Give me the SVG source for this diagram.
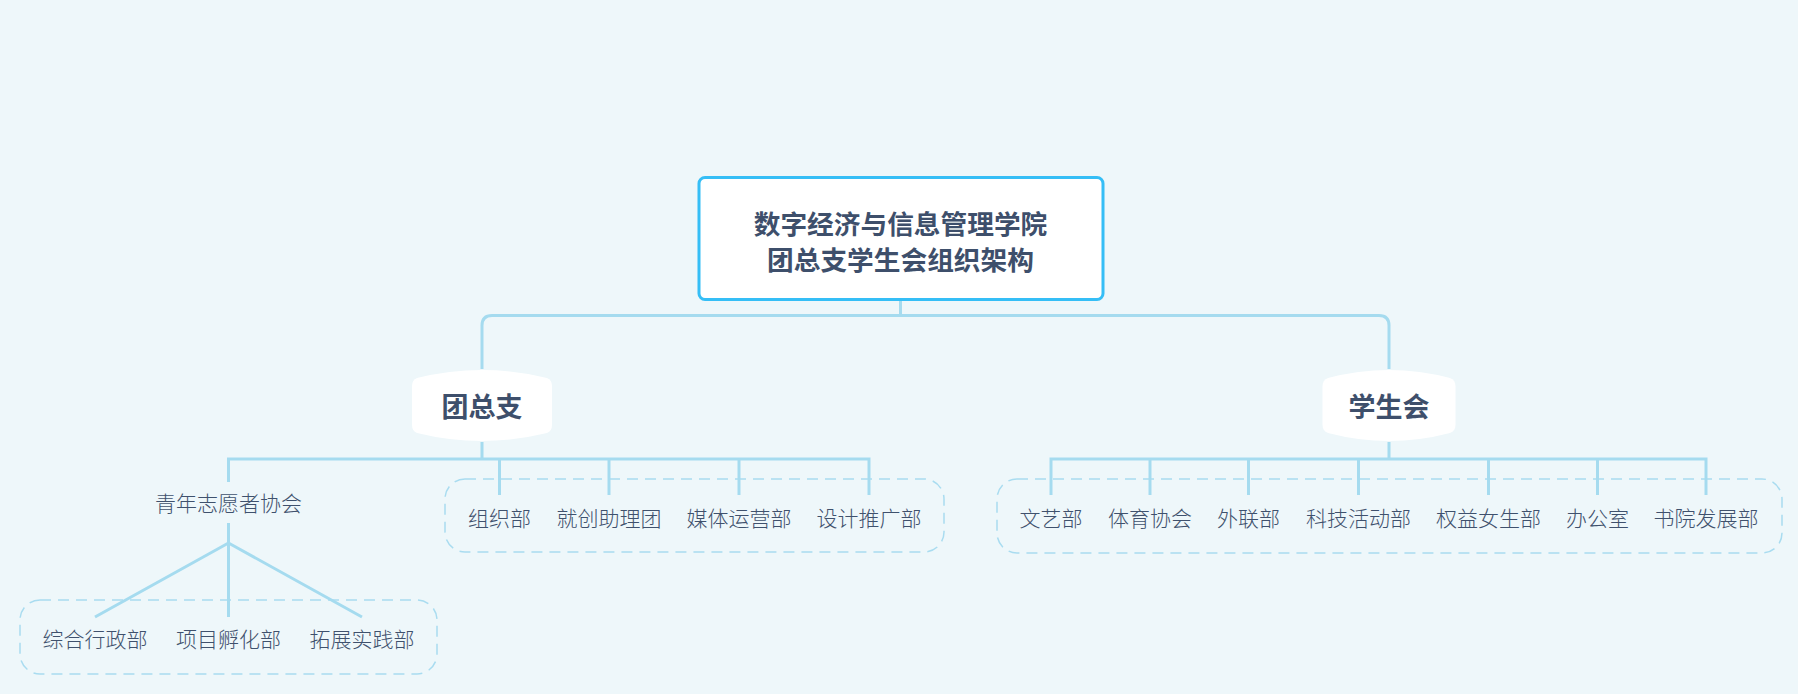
<svg xmlns="http://www.w3.org/2000/svg" width="1798" height="694" viewBox="0 0 1798 694">
<style>
text{font-family:"Noto Sans CJK SC","Noto Sans",sans-serif;fill:#3e4f6b;dominant-baseline:central;text-anchor:middle}
.t{font-size:26.7px;font-weight:bold}
.m{font-size:27px;font-weight:bold}
.s{font-size:21px;font-weight:300;fill:#3f516d}
.ln{fill:none;stroke:#a5dbef;stroke-width:3}
.grp{fill:none;stroke:#a9dcf0;stroke-width:1.5;stroke-dasharray:11 7}
.hex{fill:#ffffff}
</style>
<rect width="1798" height="694" fill="#eef7fa"/>
<g id="group-boxes">
<rect class="grp" x="20" y="600" width="417" height="74" rx="20"/>
<rect class="grp" x="445" y="479" width="499" height="73" rx="20"/>
<rect class="grp" x="997" y="479" width="785" height="74" rx="20"/>
</g>
<g id="connectors" class="ln">
<path d="M900.5,297 V315.5"/>
<path d="M482,369 V325.5 Q482,315.5 492,315.5 H1379 Q1389,315.5 1389,325.5 V369"/>
<path d="M482,442 V459"/>
<path d="M228.5,482 V459 H869 V495"/>
<path d="M499.5,459 V495 M609,459 V495 M739,459 V495"/>
<path d="M1389,442 V459"/>
<path d="M1051,495 V459 H1706 V495"/>
<path d="M1150,459 V495 M1248.5,459 V495 M1358.5,459 V495 M1488.5,459 V495 M1597.5,459 V495"/>
<path d="M228.5,523 V543 M228.5,543 L95,617 M228.5,543 V617 M228.5,543 L362,617"/>
</g>
<g id="root">
<rect x="699" y="177.5" width="404" height="122" rx="6" fill="#ffffff" stroke="#35bef6" stroke-width="3"/>
<text class="t" x="900.5" y="222">数字经济与信息管理学院</text>
<text class="t" x="900.5" y="258">团总支学生会组织架构</text>
</g>
<g id="tuanzongzhi">
<path class="hex" d="M417,378 Q482,362 547,378 Q552,380 552,386 V425 Q552,431 547,433 Q482,449 417,433 Q412,431 412,425 V386 Q412,380 417,378 Z"/>
<text class="m" x="482" y="405">团总支</text>
</g>
<g id="xueshenghui">
<path class="hex" d="M1328,378 Q1389,362 1450,378 Q1455.5,380 1455.5,386 V425 Q1455.5,431 1450,433 Q1389,449 1328,433 Q1322.5,431 1322.5,425 V386 Q1322.5,380 1328,378 Z"/>
<text class="m" x="1389" y="405">学生会</text>
</g>
<g id="qingxie">
<text class="s" x="228.5" y="502">青年志愿者协会</text>
</g>
<g id="group-qingxie">
<text class="s" x="95" y="638">综合行政部</text>
<text class="s" x="228.5" y="638">项目孵化部</text>
<text class="s" x="362" y="638">拓展实践部</text>
</g>
<g id="group-tuan">
<text class="s" x="499.5" y="517">组织部</text>
<text class="s" x="609" y="517">就创助理团</text>
<text class="s" x="739" y="517">媒体运营部</text>
<text class="s" x="869" y="517">设计推广部</text>
</g>
<g id="group-xue">
<text class="s" x="1051" y="517">文艺部</text>
<text class="s" x="1150" y="517">体育协会</text>
<text class="s" x="1248.5" y="517">外联部</text>
<text class="s" x="1358.5" y="517">科技活动部</text>
<text class="s" x="1488.5" y="517">权益女生部</text>
<text class="s" x="1597.5" y="517">办公室</text>
<text class="s" x="1706" y="517">书院发展部</text>
</g>
</svg>
